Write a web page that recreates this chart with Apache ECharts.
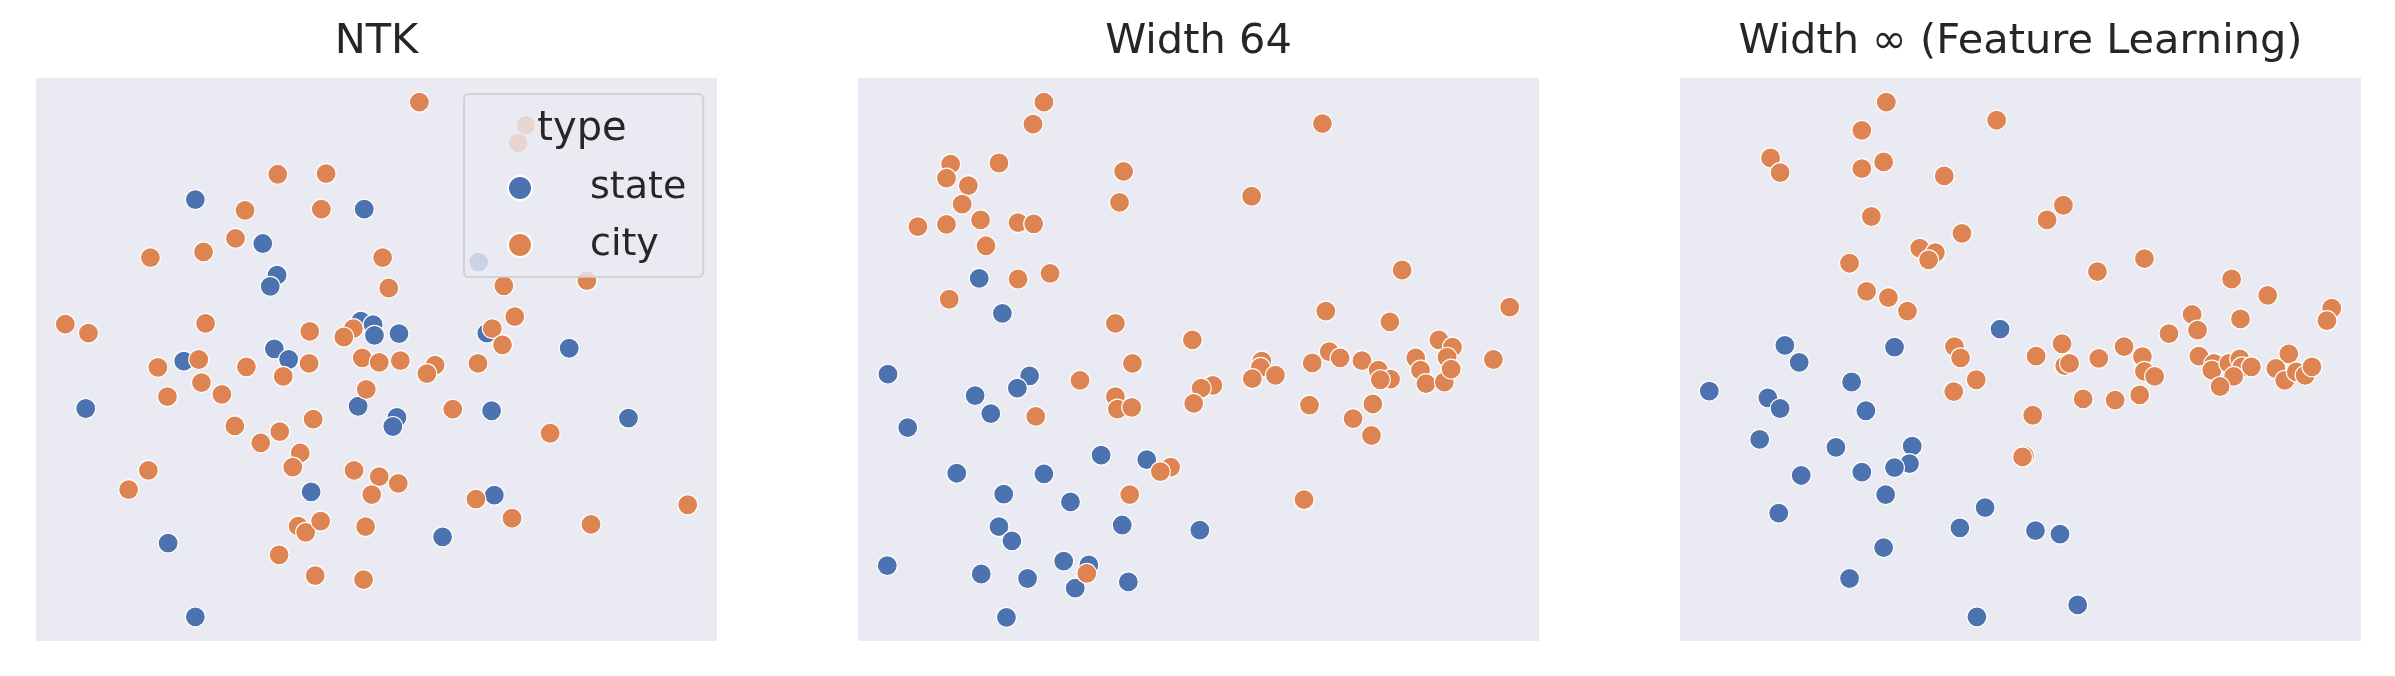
<!DOCTYPE html>
<html>
<head>
<meta charset="utf-8">
<script src="https://cdn.jsdelivr.net/npm/echarts@6.0.0/dist/echarts.min.js"></script>
<style>
html, body { margin: 0; padding: 0; background: #fff; }
#chart { width: 2395px; height: 676px; }
</style>
</head>
<body>
<div id="chart"></div>
<script>
const panelTitles = ['NTK', 'Width 64', 'Width ∞ (Feature Learning)'];
const typeNames = ['state', 'city'];

// NTK embedding
const ntkState = [
    [23.4, 78.4], [48.2, 76.7], [33.3, 70.6], [35.4, 65.0], [34.4, 63.0], [65.0, 67.3],
    [47.7, 56.8], [49.5, 56.2], [49.7, 54.3], [53.3, 54.6], [66.2, 54.7], [78.3, 52.0],
    [35.0, 51.9], [37.1, 50.0], [21.7, 49.7], [7.3, 41.3], [47.3, 41.7], [53.0, 39.7],
    [52.4, 38.1], [66.9, 40.9], [87.0, 39.6], [40.4, 26.5], [67.3, 25.9], [59.7, 18.5],
    [19.4, 17.4], [23.4, 4.3]
];
const ntkCity = [
    [56.3, 95.7], [35.5, 82.9], [42.6, 83.0], [30.7, 76.5], [41.9, 76.7], [29.3, 71.5],
    [24.6, 69.1], [16.8, 68.1], [50.9, 68.1], [51.8, 62.7], [68.7, 63.1], [80.9, 64.0],
    [70.3, 57.6], [67.0, 55.5], [68.5, 52.6], [64.9, 49.3], [58.6, 49.0], [57.4, 47.5],
    [4.3, 56.3], [7.7, 54.7], [24.9, 56.4], [40.2, 55.0], [46.6, 55.5], [45.2, 54.0],
    [23.9, 50.0], [17.9, 48.6], [30.9, 48.7], [40.1, 49.3], [36.3, 47.0], [47.9, 50.3],
    [50.4, 49.5], [53.5, 49.8], [24.3, 45.9], [27.3, 43.8], [19.3, 43.4], [48.5, 44.7],
    [61.2, 41.2], [40.7, 39.4], [29.2, 38.2], [35.8, 37.2], [33.0, 35.2], [75.5, 36.9],
    [38.8, 33.4], [37.7, 30.9], [16.5, 30.3], [13.6, 26.9], [46.7, 30.3], [50.4, 29.2],
    [53.2, 28.0], [49.3, 26.0], [64.6, 25.2], [69.9, 21.8], [81.5, 20.7], [95.7, 24.2],
    [38.5, 20.4], [39.6, 19.3], [41.8, 21.3], [48.4, 20.3], [35.7, 15.3], [41.0, 11.6],
    [48.1, 10.9], [71.9, 91.6], [70.8, 88.5]
];

// Width 64 embedding
const w64State = [
    [17.8, 64.4], [21.2, 58.2], [4.4, 47.4], [25.2, 47.1], [23.4, 44.9], [17.2, 43.6],
    [19.5, 40.4], [7.3, 37.9], [35.7, 33.0], [42.4, 32.2], [14.5, 29.8], [27.3, 29.7],
    [21.4, 26.1], [31.2, 24.7], [38.8, 20.6], [50.2, 19.7], [20.7, 20.3], [22.6, 17.8],
    [4.3, 13.4], [30.2, 14.2], [33.9, 13.5], [18.1, 11.9], [24.9, 11.1], [31.9, 9.4],
    [39.7, 10.5], [21.8, 4.2]
];
const w64City = [
    [27.3, 95.7], [25.7, 91.8], [68.2, 91.9], [13.6, 84.7], [20.7, 84.9], [13.0, 82.2],
    [16.2, 80.9], [39.0, 83.4], [15.3, 77.6], [38.4, 77.9], [57.8, 79.0], [8.8, 73.6],
    [13.0, 74.0], [18.0, 74.8], [23.5, 74.3], [25.8, 74.1], [18.8, 70.2], [23.5, 64.3],
    [28.2, 65.3], [13.4, 60.7], [79.9, 65.9], [68.7, 58.6], [78.1, 56.7], [95.7, 59.3],
    [37.8, 56.4], [49.1, 53.5], [40.3, 49.3], [32.6, 46.3], [85.3, 53.5], [87.3, 52.2],
    [86.5, 50.4], [69.2, 51.4], [70.8, 50.3], [66.7, 49.4], [74.0, 49.8], [81.9, 50.3],
    [82.6, 48.1], [76.4, 48.1], [78.2, 46.5], [76.7, 46.4], [59.3, 49.7], [59.1, 48.6],
    [61.3, 47.2], [57.9, 46.6], [83.4, 45.7], [86.1, 46.0], [87.1, 48.3], [93.3, 50.0],
    [52.1, 45.4], [50.4, 44.9], [49.3, 42.2], [37.8, 43.4], [38.1, 41.2], [40.2, 41.5],
    [66.3, 41.9], [75.6, 42.1], [26.1, 39.9], [72.7, 39.5], [75.4, 36.5], [45.9, 30.9],
    [44.4, 30.1], [39.9, 26.0], [65.5, 25.1], [33.6, 12.0]
];

// Width infinity (feature learning) embedding
const infState = [
    [47.0, 55.4], [15.4, 52.5], [31.5, 52.2], [17.5, 49.5], [4.3, 44.4], [25.2, 46.0],
    [12.9, 43.2], [14.7, 41.3], [27.3, 40.9], [11.7, 35.8], [22.9, 34.4], [34.1, 34.6],
    [33.7, 31.5], [31.5, 30.8], [26.7, 30.0], [17.8, 29.4], [30.2, 26.0], [44.8, 23.7],
    [14.5, 22.7], [41.1, 20.1], [52.2, 19.6], [55.8, 19.0], [29.9, 16.6], [24.9, 11.1],
    [58.4, 6.4], [43.6, 4.3]
];
const infCity = [
    [30.3, 95.7], [46.5, 92.5], [26.7, 90.7], [13.3, 85.8], [14.7, 83.2], [29.9, 85.1],
    [26.7, 83.9], [38.8, 82.6], [56.3, 77.4], [53.9, 74.8], [28.1, 75.4], [41.4, 72.4],
    [35.2, 69.8], [37.5, 69.0], [36.5, 67.7], [24.9, 67.1], [61.3, 65.6], [68.2, 67.9],
    [81.0, 64.3], [86.3, 61.4], [27.4, 62.1], [30.6, 61.0], [33.4, 58.6], [95.7, 59.1],
    [95.0, 56.9], [82.3, 57.2], [75.2, 58.0], [76.0, 55.2], [71.8, 54.6], [40.3, 52.3],
    [41.2, 50.3], [56.1, 52.8], [52.3, 50.6], [56.5, 48.9], [57.2, 49.3], [61.5, 50.2],
    [65.2, 52.3], [67.9, 50.5], [68.2, 47.9], [69.7, 47.0], [76.2, 50.6], [78.4, 49.3],
    [78.1, 48.1], [80.6, 49.3], [82.2, 50.1], [82.5, 48.7], [83.9, 48.7], [81.3, 47.0],
    [79.3, 45.2], [89.4, 51.0], [87.5, 48.4], [88.8, 46.3], [90.5, 47.8], [91.8, 47.2],
    [92.8, 48.7], [43.5, 46.4], [40.2, 44.3], [59.2, 43.0], [63.9, 42.8], [67.5, 43.7],
    [51.8, 40.1], [50.6, 32.9], [50.3, 32.7]
];

const panels = [
    { state: ntkState, city: ntkCity },
    { state: w64State, city: w64City },
    { state: infState, city: infCity }
];
const typeColors = { state: '#4c72b0', city: '#dd8452' };
const gridLeft = [36, 858, 1680];
const gridTop = 78;
const gridWidth = 681;
const gridHeight = 563;
const fontFamily = 'DejaVu Sans';
const textColor = '#262626';

let myChart = echarts.init(document.getElementById('chart'));

let series = [];
panels.forEach(function (panel, i) {
    typeNames.forEach(function (name) {
        series.push({
            type: 'scatter',
            name: name,
            xAxisIndex: i,
            yAxisIndex: i,
            data: panel[name],
            symbol: 'circle',
            symbolSize: 20,
            itemStyle: {
                color: typeColors[name],
                borderColor: '#ffffff',
                borderWidth: 1.2,
                opacity: 1
            },
            emphasis: { disabled: true }
        });
    });
});

let option = {
    animation: false,
    backgroundColor: '#ffffff',
    title: panelTitles.map(function (t, i) {
        return {
            text: t,
            left: gridLeft[i] + gridWidth / 2,
            top: 21,
            textAlign: 'center',
            padding: 0,
            textStyle: {
                fontFamily: fontFamily,
                fontSize: 41.5,
                fontWeight: 'normal',
                color: textColor
            }
        };
    }),
    grid: gridLeft.map(function (left) {
        return {
            left: left,
            top: gridTop,
            width: gridWidth,
            height: gridHeight,
            show: true,
            backgroundColor: '#eaeaf2',
            borderWidth: 0
        };
    }),
    xAxis: gridLeft.map(function (left, i) {
        return { type: 'value', gridIndex: i, min: 0, max: 100, show: false };
    }),
    yAxis: gridLeft.map(function (left, i) {
        return { type: 'value', gridIndex: i, min: 0, max: 100, show: false };
    }),
    // 图例: 只在第一个面板里
    legend: {
        data: typeNames,
        orient: 'vertical',
        left: 464,
        top: 94,
        padding: [74, 17, 12, 43],
        itemWidth: 24,
        itemHeight: 24,
        itemGap: 17,
        selectedMode: false,
        backgroundColor: 'rgba(234,234,242,0.8)',
        borderColor: 'rgba(204,204,204,0.8)',
        borderWidth: 2,
        borderRadius: 5,
        z: 10,
        textStyle: {
            fontFamily: fontFamily,
            fontSize: 38,
            color: textColor,
            lineHeight: 40,
            padding: [0, 0, 0, 53]
        }
    },
    graphic: [{
        type: 'text',
        x: 582,
        y: 130,
        z: 100,
        style: {
            text: 'type',
            fontFamily: fontFamily,
            fontSize: 40,
            fill: textColor,
            align: 'center',
            verticalAlign: 'middle'
        }
    }],
    series: series
};
myChart.setOption(option);
</script>
</body>
</html>
